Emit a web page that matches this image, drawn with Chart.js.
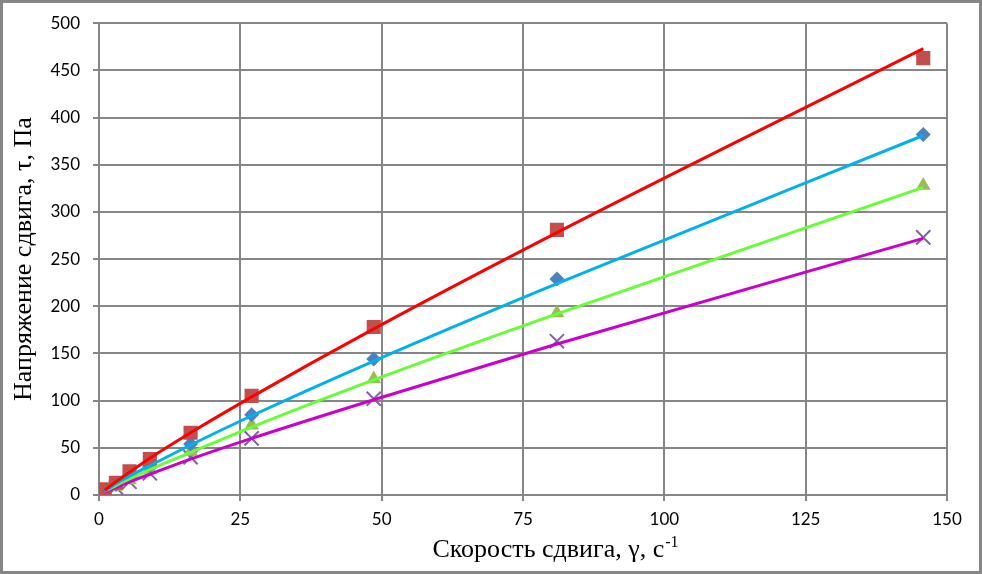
<!DOCTYPE html>
<html>
<head>
<meta charset="utf-8">
<script src="https://cdn.jsdelivr.net/npm/chart.js@4/dist/chart.umd.min.js"></script>
<style>
  html, body { margin: 0; padding: 0; background: #fff; }
  #wrap { position: relative; width: 982px; height: 574px; }
  #frame { position: absolute; left: 0; top: 0; width: 982px; height: 574px;
           box-sizing: border-box; border: 3px solid #868686; }
  #chart { position: absolute; left: 0; top: 0; }
</style>
</head>
<body>
<div id="wrap">
  <div id="frame"></div>
  <canvas id="chart" width="982" height="574"></canvas>
</div>
<script>
// скорость сдвига, 1/с
var gamma = [1, 3, 5.4, 9, 16.2, 27, 48.6, 81, 145.8];

// измеренные напряжения сдвига, Па
var tau1 = [6, 13, 25, 38, 66, 105, 178, 281, 463];
var tau2 = [4, 11, 19, 31, 54, 85, 144, 229, 382];
var tau3 = [3, 9, 16, 27, 46, 74, 123, 193, 328];
var tau4 = [2, 8, 14, 23, 40, 60, 102, 163, 273];

// линии тренда
var trend1 = [5, 14, 24, 39, 66, 104, 176, 278, 473];
var trend2 = [4, 12, 20, 31, 53, 84, 142, 224, 381];
var trend3 = [4, 10, 17, 27, 45, 72, 122, 192, 326];
var trend4 = [3, 8, 14, 22, 38, 60, 101, 160, 272];

var xTicks = [0, 25, 50, 75, 100, 125, 150];
var yTicks = [0, 50, 100, 150, 200, 250, 300, 350, 400, 450, 500];

function pts(ys) {
    return gamma.map(function (g, i) { return { x: g, y: ys[i] }; });
}

function trendSet(ys, color) {
    return {
        type: 'line',
        data: pts(ys),
        borderColor: color,
        borderWidth: 3,
        pointRadius: 0,
        cubicInterpolationMode: 'monotone',
        fill: false,
        order: 0
    };
}

function markerSet(ys, style, radius, color) {
    return {
        type: 'scatter',
        data: pts(ys),
        pointStyle: style,
        pointRadius: radius,
        pointBackgroundColor: color,
        pointBorderColor: color,
        pointBorderWidth: style === 'crossRot' ? 2 : 0,
        showLine: false,
        order: 1
    };
}

// подпись оси X с верхним индексом
var xTitlePlugin = {
    id: 'xTitle',
    afterDraw: function (chart) {
        var ctx = chart.ctx;
        var main = 'Скорость сдвига, γ, с';
        var sup = '-1';
        ctx.save();
        ctx.fillStyle = '#000';
        ctx.textBaseline = 'alphabetic';
        ctx.font = '26px "Liberation Serif"';
        var w1 = ctx.measureText(main).width;
        ctx.font = '16px "Liberation Serif"';
        var w2 = ctx.measureText(sup).width;
        var cx = (chart.chartArea.left + chart.chartArea.right) / 2 + 32;
        var x0 = cx - (w1 + w2) / 2;
        var base = chart.chartArea.bottom + 62;
        ctx.font = '26px "Liberation Serif"';
        ctx.fillText(main, x0, base);
        ctx.font = '16px "Liberation Serif"';
        ctx.fillText(sup, x0 + w1 + 1, base - 10);
        ctx.restore();
    }
};

var gridColor = '#868686';

new Chart(document.getElementById('chart').getContext('2d'), {
    data: {
        datasets: [
            trendSet(trend1, '#ff0000'),
            trendSet(trend2, '#00b0f0'),
            trendSet(trend3, '#66ff33'),
            trendSet(trend4, '#cc00cc'),
            markerSet(tau1, 'rect', 10, '#c0504d'),
            markerSet(tau2, 'rectRot', 7.5, '#4f81bd'),
            markerSet(tau3, 'triangle', 8.5, '#9bbb59'),
            markerSet(tau4, 'crossRot', 10, '#8064a2')
        ]
    },
    options: {
        responsive: false,
        animation: false,
        layout: { padding: { top: 18, right: 35, bottom: 0, left: 0 } },
        plugins: {
            legend: { display: false },
            tooltip: { enabled: false }
        },
        scales: {
            x: {
                type: 'linear',
                min: 0,
                max: 150,
                afterBuildTicks: function (axis) {
                    axis.ticks = xTicks.map(function (v) { return { value: v }; });
                },
                afterFit: function (axis) { axis.height = 79; },
                grid: { color: gridColor, lineWidth: 2, tickLength: 6, tickColor: gridColor },
                border: { color: gridColor, width: 2 },
                ticks: {
                    color: '#000',
                    padding: 8,
                    maxRotation: 0,
                    font: { family: 'Lato', size: 17 }
                }
            },
            y: {
                type: 'linear',
                min: 0,
                max: 500,
                afterBuildTicks: function (axis) {
                    axis.ticks = yTicks.map(function (v) { return { value: v }; });
                },
                afterFit: function (axis) { axis.width = 99; },
                grid: { color: gridColor, lineWidth: 2, tickLength: 6, tickColor: gridColor },
                border: { color: gridColor, width: 2 },
                title: {
                    display: true,
                    text: 'Напряжение сдвига, τ, Па',
                    color: '#000',
                    padding: { top: 9, bottom: 0 },
                    font: { family: 'Liberation Serif', size: 26, weight: 'normal' }
                },
                ticks: {
                    color: '#000',
                    padding: 13,
                    font: { family: 'Lato', size: 17 }
                }
            }
        }
    },
    plugins: [xTitlePlugin]
});
</script>
</body>
</html>
